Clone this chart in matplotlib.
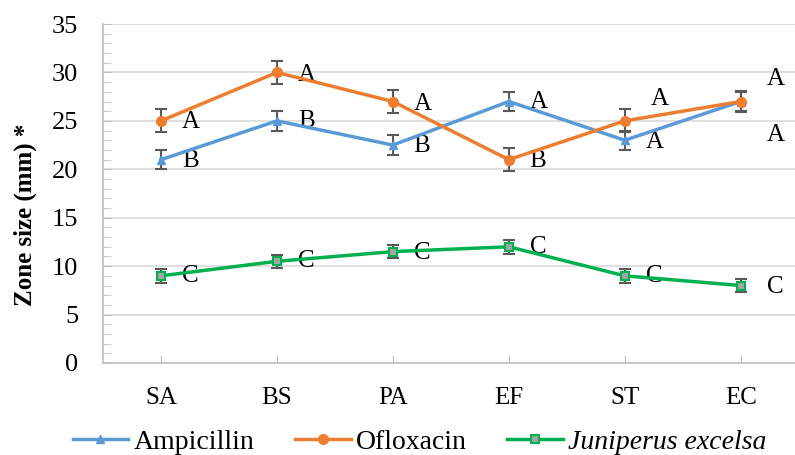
import numpy as np
import matplotlib
matplotlib.use("Agg")
import matplotlib.pyplot as plt
from matplotlib.lines import Line2D
from matplotlib.ticker import MultipleLocator

plt.rcParams['font.family'] = ['Liberation Serif', 'DejaVu Serif']

#Data
categories = ["SA", "BS", "PA", "EF", "ST", "EC"]
ampicillin = [21, 25, 22.5, 27, 23, 27]
ampicillin_err = [1.0, 1.0, 1.0, 1.0, 1.0, 1.0]
ofloxacin = [25, 30, 27, 21, 25, 27]
ofloxacin_err = [1.2, 1.2, 1.2, 1.2, 1.2, 1.1]
juniperus = [9, 10.5, 11.5, 12, 9, 8]
juniperus_err = [0.7, 0.7, 0.7, 0.7, 0.7, 0.7]
series_names = ["Ampicillin", "Ofloxacin", "Juniperus excelsa"]

#Significance letters for each series
amp_letters = ["B", "B", "B", "A", "A", "A"]
oflox_letters = ["A", "A", "A", "B", "A", "A"]
jun_letters = ["C", "C", "C", "C", "C", "C"]

x = np.arange(len(categories))

fig = plt.figure(figsize=(7.95, 4.55), dpi=100)
ax = fig.add_axes([0.1296, 0.2022, 0.875, 0.745])

err_style = dict(ecolor="#595959", elinewidth=1.5, capsize=4, capthick=1.5)

styles = [
    dict(color="#5B9BD5", marker="^", ms=6, mfc="#5B9BD5", mec="#5B9BD5"),
    dict(color="#ED7D31", marker="o", ms=7, mfc="#ED7D31", mec="#ED7D31"),
    dict(color="#00B050", marker="s", ms=5.5, mfc="#A5A5A5", mec="#00B050", mew=1.5),
]

for vals, errs, st in zip([ampicillin, ofloxacin, juniperus],
                          [ampicillin_err, ofloxacin_err, juniperus_err], styles):
    ax.errorbar(x, vals, yerr=errs, lw=2.5, zorder=3, **st, **err_style)

#Letters next to the points (offsets in points)
amp_off = [(15, -1), (15, 0), (15, -1), (15, 0), (15, -1), (19, -24)]
oflox_off = [(15, -1), (15, -2), (15, -2), (15, -1), (19, 16), (19, 16)]
jun_off = [(15, 0), (15, 0), (15, -1), (15, 0), (15, 0), (19, -1)]

for vals, letters, offs in [(ampicillin, amp_letters, amp_off),
                            (ofloxacin, oflox_letters, oflox_off),
                            (juniperus, jun_letters, jun_off)]:
    for i, (v, s) in enumerate(zip(vals, letters)):
        ax.annotate(s, (x[i], v), xytext=offs[i], textcoords="offset points",
                    fontsize=18, va="center", ha="left")

ax.set_xlim(-0.5, 5.5)
ax.set_ylim(0, 35)
ax.set_xticks(x)
ax.set_xticklabels(categories, fontsize=18)
ax.yaxis.set_major_locator(MultipleLocator(5))
ax.yaxis.set_minor_locator(MultipleLocator(1))
ax.tick_params(axis="y", which="both", direction="in", color="#BFBFBF",
               labelsize=19, pad=18, length=6)
ax.tick_params(axis="x", direction="in", color="#BFBFBF", length=6, pad=17)

ax.grid(axis="y", color="#D9D9D9", lw=1.2)
ax.set_axisbelow(True)
for side in ["top", "right"]:
    ax.spines[side].set_visible(False)
for side in ["left", "bottom"]:
    ax.spines[side].set_color("#BFBFBF")
    ax.spines[side].set_linewidth(1.2)

ax.set_ylabel("Zone size (mm) *", fontsize=18, fontweight="bold")
ax.yaxis.set_label_coords(-0.095, 0.437)

handles = [Line2D([], [], lw=2.5, **st) for st in styles]
leg = fig.legend(handles, series_names, loc="lower center",
                 bbox_to_anchor=(0.528, -0.055), ncol=3, frameon=False,
                 fontsize=20, handlelength=2.0, columnspacing=1.45,
                 handletextpad=0.2)
leg.get_texts()[2].set_style("italic")

fig.savefig("out.png", dpi=100)
